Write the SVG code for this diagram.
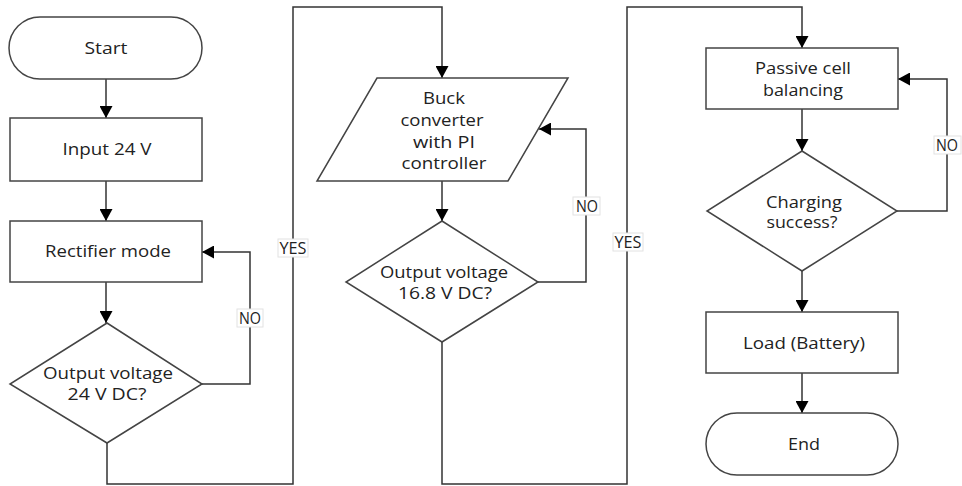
<svg xmlns="http://www.w3.org/2000/svg" width="962" height="486" viewBox="0 0 962 486">
<style>
.sh{fill:#fff;stroke:#444;stroke-width:1.5}
.ln{fill:none;stroke:#333;stroke-width:1.5}
.t{font-family:"Open Sans","Liberation Sans",sans-serif;font-size:16px;fill:#222;text-anchor:middle}
.lb{fill:#fff;stroke:#e2e2e2;stroke-width:1}
</style>
<defs>
<marker id="ah" markerUnits="userSpaceOnUse" markerWidth="12" markerHeight="13" viewBox="0 0 12 13" refX="12" refY="6.5" orient="auto">
<path d="M0,0 L12,6.5 L0,13 z" fill="#000"/>
</marker>
</defs>
<g id="connectors">
<path class="ln" d="M106,79 V118" marker-end="url(#ah)"/>
<path class="ln" d="M106,181 V221" marker-end="url(#ah)"/>
<path class="ln" d="M106,282 V323" marker-end="url(#ah)"/>
<path class="ln" d="M202,384 H250 V252 H202" marker-end="url(#ah)"/>
<path class="ln" d="M107,443 V484 H293 V7 H442 V78" marker-end="url(#ah)"/>
<path class="ln" d="M442,181 V221" marker-end="url(#ah)"/>
<path class="ln" d="M538,282 H586 V129 H539" marker-end="url(#ah)"/>
<path class="ln" d="M442,342 V484 H627 V7 H802 V48" marker-end="url(#ah)"/>
<path class="ln" d="M802,109 V151" marker-end="url(#ah)"/>
<path class="ln" d="M897,211 H947 V79 H898" marker-end="url(#ah)"/>
<path class="ln" d="M802,271 V312" marker-end="url(#ah)"/>
<path class="ln" d="M802,373 V413" marker-end="url(#ah)"/>
<g id="lbl-no1"><rect class="lb" x="237" y="309" width="26" height="18"/><text class="t" x="250" y="324" textLength="22" lengthAdjust="spacingAndGlyphs">NO</text></g>
<g id="lbl-yes1"><rect class="lb" x="278" y="239" width="30" height="18"/><text class="t" x="293" y="254" textLength="27" lengthAdjust="spacingAndGlyphs">YES</text></g>
<g id="lbl-no2"><rect class="lb" x="573" y="197" width="27" height="18"/><text class="t" x="587" y="212" textLength="22" lengthAdjust="spacingAndGlyphs">NO</text></g>
<g id="lbl-yes2"><rect class="lb" x="613" y="233" width="30" height="18"/><text class="t" x="628" y="248" textLength="27" lengthAdjust="spacingAndGlyphs">YES</text></g>
<g id="lbl-no3"><rect class="lb" x="934" y="136" width="27" height="18"/><text class="t" x="947" y="151" textLength="22" lengthAdjust="spacingAndGlyphs">NO</text></g>
</g>
<g id="start">
<rect class="sh" x="9" y="17" width="193" height="62" rx="31" ry="31"/>
<text class="t" x="106" y="54" textLength="43" lengthAdjust="spacingAndGlyphs">Start</text>
</g>
<g id="input">
<rect class="sh" x="10" y="118" width="192" height="63"/>
<text class="t" x="107" y="155" textLength="89" lengthAdjust="spacingAndGlyphs">Input 24 V</text>
</g>
<g id="rectifier">
<rect class="sh" x="10" y="221" width="192" height="61"/>
<text class="t" x="108" y="257" textLength="126" lengthAdjust="spacingAndGlyphs">Rectifier mode</text>
</g>
<g id="dec1">
<polygon class="sh" points="107,323 202,384 107,443 10,384"/>
<text class="t" x="108" y="379" textLength="130" lengthAdjust="spacingAndGlyphs">Output voltage</text>
<text class="t" x="107" y="400" textLength="79" lengthAdjust="spacingAndGlyphs">24 V DC?</text>
</g>
<g id="buck">
<polygon class="sh" points="377,78 568,78 508,181 317,181"/>
<text class="t" x="444" y="104" textLength="42" lengthAdjust="spacingAndGlyphs">Buck</text>
<text class="t" x="442" y="126" textLength="83" lengthAdjust="spacingAndGlyphs">converter</text>
<text class="t" x="444" y="148" textLength="62" lengthAdjust="spacingAndGlyphs">with PI</text>
<text class="t" x="444" y="169" textLength="85" lengthAdjust="spacingAndGlyphs">controller</text>
</g>
<g id="dec2">
<polygon class="sh" points="442,221 538,282 442,342 346,282"/>
<text class="t" x="444" y="278" textLength="128" lengthAdjust="spacingAndGlyphs">Output voltage</text>
<text class="t" x="445" y="299" textLength="94" lengthAdjust="spacingAndGlyphs">16.8 V DC?</text>
</g>
<g id="passive">
<rect class="sh" x="706" y="48" width="192" height="61"/>
<text class="t" x="803" y="74" textLength="96" lengthAdjust="spacingAndGlyphs">Passive cell</text>
<text class="t" x="803" y="96" textLength="80" lengthAdjust="spacingAndGlyphs">balancing</text>
</g>
<g id="dec3">
<polygon class="sh" points="802,151 897,211 802,271 707,211"/>
<text class="t" x="804" y="208" textLength="76" lengthAdjust="spacingAndGlyphs">Charging</text>
<text class="t" x="802" y="228" textLength="71" lengthAdjust="spacingAndGlyphs">success?</text>
</g>
<g id="load">
<rect class="sh" x="706" y="312" width="192" height="61"/>
<text class="t" x="804" y="349" textLength="122" lengthAdjust="spacingAndGlyphs">Load (Battery)</text>
</g>
<g id="end">
<rect class="sh" x="706" y="413" width="192" height="62" rx="31" ry="31"/>
<text class="t" x="804" y="450" textLength="32" lengthAdjust="spacingAndGlyphs">End</text>
</g>
</svg>
